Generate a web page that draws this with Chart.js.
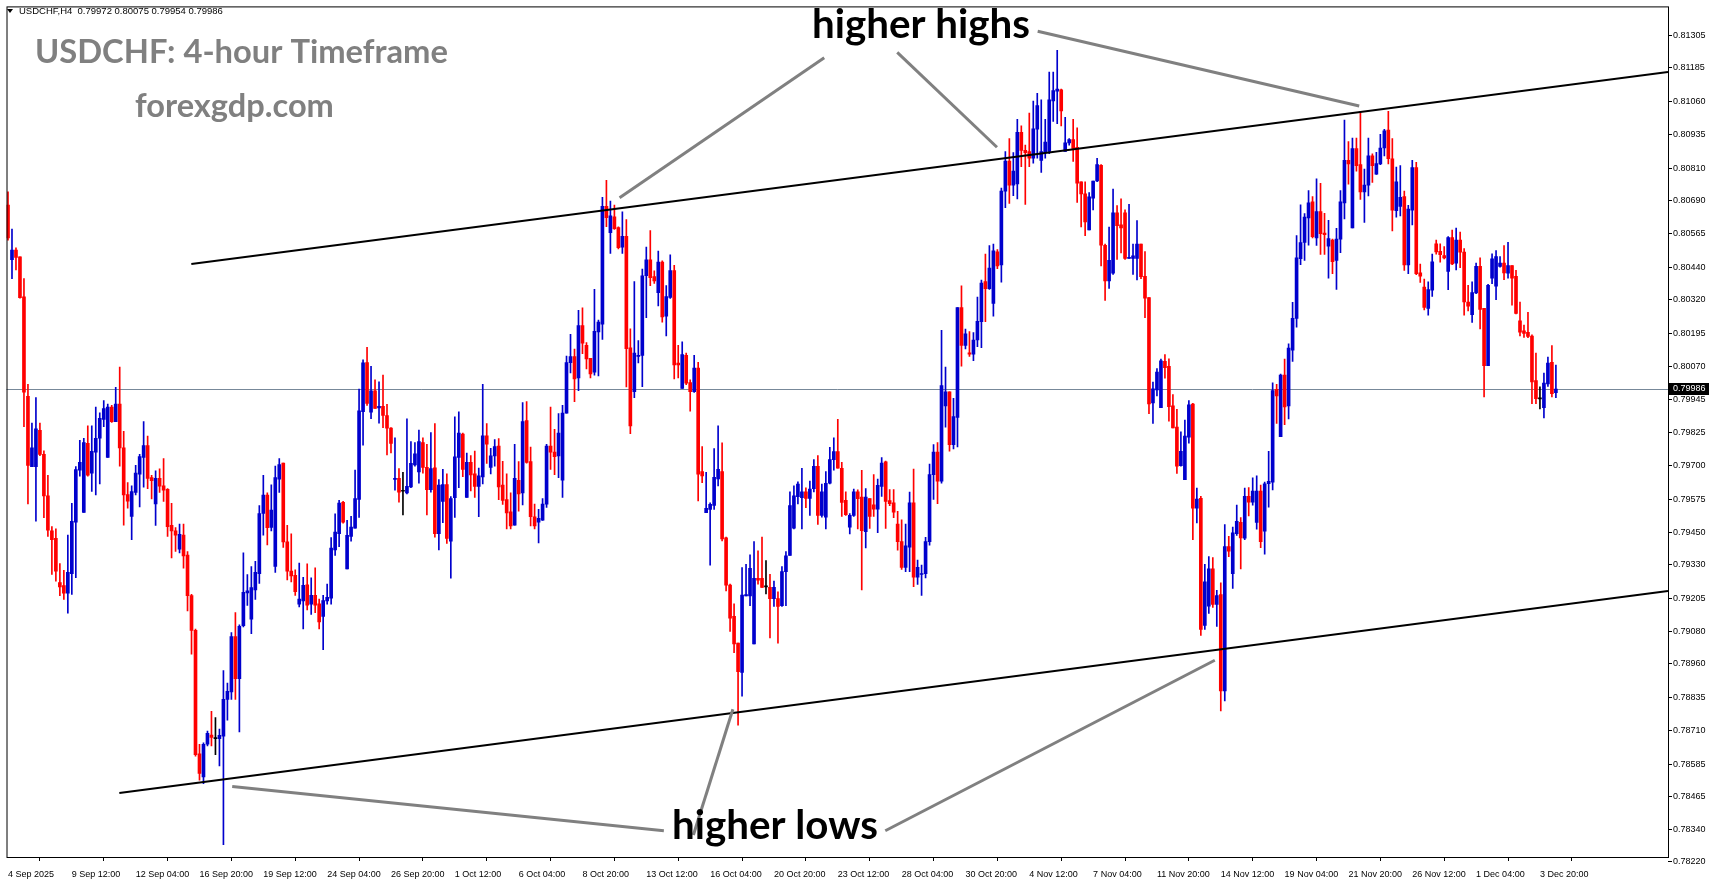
<!DOCTYPE html>
<html>
<head>
<meta charset="utf-8">
<script src="https://cdn.jsdelivr.net/npm/chart.js@4.4.1/dist/chart.umd.min.js"></script>
<style>
  html, body { margin: 0; padding: 0; background: #fff; overflow: hidden; }
  canvas { display: block; }
</style>
</head>
<body>
<canvas id="chart" width="1714" height="888"></canvas>
<script>
// USDCHF H4 candles, 4 Sep 2025 -> 4 Dec 2025 (bar index 0..388)
const opens = [
  0.80673,0.80469,0.80505,0.80480,0.80330,0.79959,0.79696,0.79696,0.79832,0.79742,
  0.79587,0.79456,0.79428,0.79263,0.79252,0.79223,0.79296,0.79489,0.79683,0.79525,
  0.79783,0.79672,0.79750,0.79802,0.79872,0.79730,0.79918,0.79864,0.79930,0.79766,
  0.79592,0.79510,0.79600,0.79668,0.79730,0.79775,0.79655,0.79557,0.79652,0.79624,
  0.79611,0.79477,0.79456,0.79388,0.79440,0.79366,0.79214,0.79085,0.78623,0.78537,
  0.78659,0.78693,0.78680,0.78680,0.78689,0.78827,0.78855,0.79061,0.78904,0.79102,
  0.79224,0.79126,0.79236,0.79296,0.79521,0.79590,0.79469,0.79323,0.79649,0.79709,
  0.79415,0.79306,0.79290,0.79182,0.79194,0.79255,0.79182,0.79215,0.79184,0.79137,
  0.79194,0.79205,0.79385,0.79446,0.79563,0.79314,0.79435,0.79466,0.79574,0.79901,
  0.80085,0.79899,0.79979,0.79915,0.79921,0.79887,0.79840,0.79648,0.79652,0.79604,
  0.79598,0.79620,0.79702,0.79676,0.79786,0.79693,0.79610,0.79692,0.79446,0.79566,
  0.79629,0.79418,0.79580,0.79730,0.79818,0.79581,0.79712,0.79669,0.79622,0.79658,
  0.79811,0.79693,0.79736,0.79773,0.79627,0.79573,0.79527,0.79477,0.79645,0.79598,
  0.79868,0.79715,0.79509,0.79489,0.79496,0.79556,0.79773,0.79750,0.79736,0.79645,
  0.79896,0.80084,0.80107,0.80027,0.80223,0.80149,0.80101,0.80049,0.80199,0.80228,
  0.80668,0.80570,0.80629,0.80589,0.80516,0.80556,0.80140,0.79976,0.80108,0.80111,
  0.80409,0.80468,0.80406,0.80346,0.80460,0.80258,0.80328,0.80428,0.80083,0.79988,
  0.80112,0.80010,0.79976,0.80064,0.79678,0.79524,0.79536,0.79551,0.79650,0.79678,
  0.79430,0.79254,0.79137,0.79037,0.78927,0.79213,0.79213,0.79034,0.79279,0.79279,
  0.79247,0.79245,0.79203,0.79203,0.79177,0.79304,0.79364,0.79466,0.79584,0.79580,
  0.79602,0.79577,0.79614,0.79697,0.79514,0.79507,0.79634,0.79722,0.79752,0.79690,
  0.79570,0.79470,0.79514,0.79602,0.79582,0.79453,0.79577,0.79553,0.79537,0.79622,
  0.79714,0.79569,0.79561,0.79481,0.79416,0.79320,0.79395,0.79561,0.79283,0.79293,
  0.79296,0.79416,0.79666,0.79750,0.79642,0.79923,0.79975,0.79778,0.79880,0.80290,
  0.80149,0.80121,0.80116,0.80169,0.80237,0.80387,0.80361,0.80306,0.80498,0.80449,
  0.80725,0.80837,0.80747,0.80752,0.80945,0.80877,0.80873,0.80848,0.80956,0.80840,
  0.80869,0.80873,0.81062,0.81098,0.81103,0.80873,0.80905,0.80918,0.80889,0.80760,
  0.80715,0.80580,0.80699,0.80763,0.80821,0.80523,0.80390,0.80419,0.80644,0.80599,
  0.80644,0.80474,0.80474,0.80474,0.80527,0.80407,0.80327,0.79934,0.79983,0.79916,
  0.80089,0.80071,0.79923,0.79844,0.79700,0.79647,0.79806,0.79930,0.79541,0.79578,
  0.79103,0.79175,0.79314,0.79181,0.79218,0.78858,0.79397,0.79296,0.79446,0.79488,
  0.79429,0.79585,0.79563,0.79488,0.79605,0.79455,0.79632,0.79638,0.79985,0.79808,
  0.80038,0.79923,0.80131,0.80250,0.80473,0.80533,0.80625,0.80685,0.80550,0.80649,
  0.80568,0.80519,0.80542,0.80466,0.80546,0.80681,0.80840,0.80588,0.80884,0.80824,
  0.80722,0.80747,0.80857,0.80788,0.80827,0.80886,0.80953,0.80846,0.80652,0.80668,
  0.80705,0.80449,0.80654,0.80813,0.80420,0.80367,0.80287,0.80355,0.80528,0.80500,
  0.80484,0.80425,0.80552,0.80456,0.80542,0.80497,0.80311,0.80264,0.80345,0.80444,
  0.80287,0.80073,0.80400,0.80370,0.80444,0.80456,0.80419,0.80447,0.80407,0.80241,
  0.80203,0.80198,0.80184,0.80017,0.79949,0.79916,0.80005,0.80086,0.79972
];
const highs = [
  0.80722,0.80583,0.80513,0.80480,0.80398,0.80003,0.79859,0.79954,0.79859,0.79755,
  0.79664,0.79472,0.79464,0.79334,0.79309,0.79440,0.79559,0.79696,0.79794,0.79802,
  0.79848,0.79848,0.79918,0.79897,0.79943,0.79930,0.79925,0.79992,0.80068,0.79828,
  0.79636,0.79624,0.79701,0.79742,0.79864,0.79810,0.79664,0.79680,0.79688,0.79726,
  0.79614,0.79559,0.79468,0.79481,0.79481,0.79379,0.79219,0.79089,0.78659,0.78664,
  0.78708,0.78782,0.78759,0.78716,0.78934,0.78888,0.79076,0.79151,0.79105,0.79374,
  0.79293,0.79323,0.79342,0.79551,0.79664,0.79598,0.79628,0.79698,0.79726,0.79709,
  0.79477,0.79445,0.79311,0.79336,0.79283,0.79333,0.79281,0.79318,0.79201,0.79215,
  0.79257,0.79431,0.79520,0.79570,0.79566,0.79495,0.79510,0.79683,0.79986,0.80095,
  0.80142,0.80071,0.80020,0.80013,0.80038,0.79929,0.79842,0.79804,0.79689,0.79675,
  0.79875,0.79790,0.79786,0.79833,0.79804,0.79779,0.79823,0.79857,0.79648,0.79686,
  0.79669,0.79584,0.79882,0.79901,0.79821,0.79747,0.79737,0.79754,0.79691,0.80003,
  0.79857,0.79764,0.79797,0.79801,0.79716,0.79669,0.79598,0.79779,0.79715,0.79935,
  0.79939,0.79769,0.79556,0.79537,0.79577,0.79779,0.79918,0.79835,0.79894,0.79925,
  0.80109,0.80190,0.80135,0.80280,0.80289,0.80159,0.80101,0.80358,0.80243,0.80702,
  0.80765,0.80688,0.80673,0.80592,0.80648,0.80619,0.80211,0.80387,0.80167,0.80434,
  0.80516,0.80578,0.80427,0.80501,0.80465,0.80372,0.80487,0.80448,0.80149,0.80162,
  0.80120,0.80020,0.80112,0.80086,0.79771,0.79675,0.79561,0.79763,0.79848,0.79785,
  0.79433,0.79257,0.79184,0.79037,0.79319,0.79331,0.79367,0.79416,0.79382,0.79433,
  0.79345,0.79294,0.79269,0.79228,0.79323,0.79379,0.79602,0.79624,0.79639,0.79690,
  0.79617,0.79642,0.79722,0.79737,0.79631,0.79678,0.79768,0.79804,0.79873,0.79712,
  0.79602,0.79521,0.79612,0.79609,0.79682,0.79614,0.79577,0.79666,0.79650,0.79730,
  0.79717,0.79610,0.79610,0.79529,0.79497,0.79481,0.79601,0.79687,0.79347,0.79328,
  0.79432,0.79706,0.79778,0.79786,0.80205,0.80068,0.79975,0.79951,0.80290,0.80371,
  0.80210,0.80200,0.80197,0.80329,0.80393,0.80490,0.80522,0.80527,0.80507,0.80736,
  0.80873,0.80921,0.80869,0.80993,0.80969,0.80897,0.81017,0.81061,0.81090,0.81066,
  0.80993,0.81170,0.81170,0.81251,0.81106,0.81001,0.80921,0.80993,0.80961,0.80760,
  0.80760,0.80720,0.80763,0.80848,0.80824,0.80527,0.80591,0.80733,0.80671,0.80696,
  0.80655,0.80676,0.80527,0.80615,0.80527,0.80499,0.80327,0.80012,0.80062,0.80098,
  0.80115,0.80099,0.79965,0.79910,0.79826,0.79870,0.79943,0.79932,0.79616,0.79585,
  0.79331,0.79360,0.79356,0.79234,0.79262,0.79480,0.79436,0.79470,0.79552,0.79506,
  0.79616,0.79618,0.79654,0.79662,0.79627,0.79638,0.79753,0.80009,0.80003,0.80042,
  0.80098,0.80155,0.80310,0.80559,0.80674,0.80641,0.80727,0.80705,0.80771,0.80754,
  0.80642,0.80616,0.80546,0.80586,0.80727,0.80990,0.80910,0.80923,0.80923,0.81023,
  0.80807,0.80923,0.80864,0.80870,0.80937,0.80956,0.81023,0.80921,0.80815,0.80820,
  0.80725,0.80672,0.80840,0.80833,0.80453,0.80397,0.80386,0.80490,0.80542,0.80528,
  0.80518,0.80555,0.80580,0.80587,0.80572,0.80510,0.80373,0.80386,0.80456,0.80476,
  0.80287,0.80377,0.80491,0.80503,0.80481,0.80522,0.80534,0.80447,0.80429,0.80311,
  0.80225,0.80272,0.80188,0.80120,0.79994,0.80045,0.80105,0.80148,0.80075
];
const lows = [
  0.80542,0.80398,0.80431,0.80325,0.79845,0.79557,0.79696,0.79492,0.79737,0.79505,
  0.79435,0.79293,0.79268,0.79214,0.79200,0.79149,0.79219,0.79281,0.79660,0.79525,
  0.79660,0.79603,0.79590,0.79631,0.79845,0.79730,0.79861,0.79864,0.79698,0.79477,
  0.79541,0.79423,0.79590,0.79546,0.79619,0.79614,0.79575,0.79476,0.79600,0.79566,
  0.79435,0.79355,0.79379,0.79374,0.79317,0.79157,0.78996,0.78615,0.78525,0.78512,
  0.78653,0.78653,0.78620,0.78578,0.78284,0.78749,0.78827,0.78827,0.78705,0.79097,
  0.79178,0.79072,0.79200,0.79260,0.79440,0.79404,0.79456,0.79301,0.79600,0.79394,
  0.79273,0.79265,0.79215,0.79172,0.79090,0.79161,0.79144,0.79151,0.79090,0.79012,
  0.79182,0.79182,0.79364,0.79397,0.79485,0.79314,0.79418,0.79466,0.79506,0.79776,
  0.79925,0.79875,0.79913,0.79858,0.79842,0.79740,0.79747,0.79608,0.79563,0.79516,
  0.79594,0.79617,0.79698,0.79634,0.79672,0.79516,0.79601,0.79433,0.79385,0.79487,
  0.79409,0.79279,0.79506,0.79617,0.79659,0.79581,0.79605,0.79581,0.79509,0.79631,
  0.79708,0.79669,0.79698,0.79573,0.79555,0.79463,0.79463,0.79477,0.79530,0.79553,
  0.79709,0.79475,0.79463,0.79411,0.79495,0.79544,0.79686,0.79666,0.79655,0.79581,
  0.79896,0.80046,0.79939,0.79980,0.80118,0.80061,0.80027,0.80038,0.80035,0.80171,
  0.80592,0.80492,0.80582,0.80509,0.80492,0.79994,0.79819,0.79954,0.80083,0.79995,
  0.80252,0.80372,0.80380,0.80296,0.80236,0.80184,0.80324,0.80024,0.80027,0.79988,
  0.80002,0.79903,0.79973,0.79568,0.79636,0.79524,0.79328,0.79536,0.79624,0.79419,
  0.79232,0.79081,0.79001,0.78730,0.78839,0.79213,0.79177,0.79034,0.79257,0.79245,
  0.79221,0.79056,0.79174,0.79037,0.79174,0.79177,0.79364,0.79463,0.79557,0.79463,
  0.79543,0.79514,0.79602,0.79480,0.79507,0.79463,0.79631,0.79683,0.79690,0.79510,
  0.79514,0.79445,0.79510,0.79463,0.79236,0.79392,0.79465,0.79510,0.79449,0.79585,
  0.79465,0.79550,0.79505,0.79384,0.79312,0.79304,0.79304,0.79248,0.79256,0.79215,
  0.79280,0.79403,0.79574,0.79558,0.79634,0.79843,0.79754,0.79762,0.79770,0.80071,
  0.80136,0.80108,0.80092,0.80144,0.80140,0.80237,0.80358,0.80258,0.80435,0.80385,
  0.80663,0.80679,0.80708,0.80696,0.80816,0.80675,0.80816,0.80829,0.80848,0.80795,
  0.80848,0.80865,0.80985,0.80977,0.80969,0.80873,0.80897,0.80836,0.80683,0.80591,
  0.80559,0.80580,0.80655,0.80760,0.80446,0.80317,0.80362,0.80414,0.80470,0.80494,
  0.80470,0.80474,0.80414,0.80393,0.80398,0.80252,0.79894,0.79857,0.79960,0.79916,
  0.80026,0.79866,0.79841,0.79671,0.79698,0.79647,0.79784,0.79423,0.79486,0.79066,
  0.79088,0.79148,0.79170,0.79099,0.78784,0.78821,0.79360,0.79241,0.79439,0.79314,
  0.79423,0.79512,0.79552,0.79462,0.79393,0.79369,0.79545,0.79609,0.79857,0.79808,
  0.79853,0.79874,0.80089,0.80217,0.80450,0.80466,0.80523,0.80550,0.80522,0.80489,
  0.80489,0.80400,0.80417,0.80358,0.80495,0.80621,0.80751,0.80588,0.80800,0.80694,
  0.80608,0.80707,0.80758,0.80787,0.80824,0.80857,0.80827,0.80576,0.80628,0.80632,
  0.80429,0.80417,0.80599,0.80413,0.80384,0.80281,0.80262,0.80332,0.80490,0.80460,
  0.80472,0.80357,0.80450,0.80431,0.80439,0.80262,0.80278,0.80235,0.80342,0.80210,
  0.79956,0.80073,0.80379,0.80320,0.80441,0.80394,0.80400,0.80299,0.80266,0.80184,
  0.80179,0.80178,0.79931,0.79931,0.79912,0.79878,0.79996,0.79956,0.79954
];
const closes = [
  0.80550,0.80505,0.80477,0.80327,0.79974,0.79701,0.79766,0.79837,0.79742,0.79587,
  0.79459,0.79423,0.79306,0.79247,0.79223,0.79301,0.79492,0.79685,0.79712,0.79786,
  0.79664,0.79753,0.79802,0.79876,0.79913,0.79918,0.79864,0.79930,0.79766,0.79590,
  0.79567,0.79603,0.79672,0.79734,0.79775,0.79652,0.79644,0.79652,0.79623,0.79608,
  0.79472,0.79456,0.79440,0.79443,0.79363,0.79214,0.79084,0.78620,0.78550,0.78659,
  0.78700,0.78685,0.78680,0.78692,0.78827,0.78857,0.79061,0.78904,0.79100,0.79227,
  0.79232,0.79244,0.79301,0.79521,0.79590,0.79468,0.79534,0.79655,0.79704,0.79415,
  0.79306,0.79288,0.79229,0.79201,0.79253,0.79179,0.79215,0.79179,0.79116,0.79196,
  0.79208,0.79392,0.79452,0.79560,0.79489,0.79439,0.79470,0.79577,0.79904,0.80084,
  0.79932,0.79979,0.79913,0.79921,0.79887,0.79840,0.79783,0.79652,0.79601,0.79604,
  0.79622,0.79708,0.79744,0.79790,0.79693,0.79610,0.79689,0.79446,0.79627,0.79629,
  0.79428,0.79577,0.79733,0.79821,0.79686,0.79712,0.79665,0.79622,0.79662,0.79811,
  0.79780,0.79736,0.79771,0.79620,0.79570,0.79523,0.79475,0.79652,0.79594,0.79864,
  0.79712,0.79509,0.79475,0.79503,0.79556,0.79773,0.79750,0.79733,0.79821,0.79896,
  0.80085,0.80107,0.80024,0.80223,0.80157,0.80098,0.80042,0.80201,0.80236,0.80668,
  0.80626,0.80633,0.80585,0.80514,0.80556,0.80137,0.79848,0.80120,0.80112,0.80409,
  0.80468,0.80402,0.80390,0.80460,0.80255,0.80331,0.80428,0.80076,0.80076,0.80115,
  0.80008,0.79976,0.80064,0.79668,0.79661,0.79540,0.79555,0.79656,0.79686,0.79426,
  0.79253,0.79130,0.79034,0.78930,0.79216,0.79218,0.79316,0.79279,0.79272,0.79245,
  0.79247,0.79203,0.79245,0.79174,0.79304,0.79363,0.79551,0.79587,0.79631,0.79602,
  0.79577,0.79612,0.79697,0.79514,0.79602,0.79634,0.79722,0.79752,0.79690,0.79562,
  0.79517,0.79514,0.79602,0.79576,0.79457,0.79582,0.79510,0.79537,0.79626,0.79709,
  0.79566,0.79558,0.79526,0.79416,0.79320,0.79400,0.79561,0.79283,0.79320,0.79296,
  0.79416,0.79666,0.79750,0.79642,0.79999,0.79975,0.79778,0.79883,0.80290,0.80149,
  0.80192,0.80116,0.80169,0.80239,0.80382,0.80361,0.80438,0.80502,0.80446,0.80725,
  0.80837,0.80747,0.80800,0.80945,0.80877,0.80869,0.80848,0.80958,0.81045,0.80873,
  0.80908,0.81066,0.81101,0.81106,0.81025,0.80905,0.80918,0.80885,0.80755,0.80715,
  0.80610,0.80704,0.80763,0.80824,0.80523,0.80390,0.80467,0.80644,0.80596,0.80588,
  0.80474,0.80478,0.80483,0.80527,0.80406,0.80325,0.79930,0.79987,0.80049,0.80091,
  0.80066,0.79920,0.79841,0.79698,0.79753,0.79810,0.79927,0.79541,0.79575,0.79088,
  0.79266,0.79314,0.79181,0.79214,0.78858,0.79397,0.79380,0.79449,0.79492,0.79430,
  0.79585,0.79563,0.79605,0.79605,0.79416,0.79632,0.79641,0.79980,0.79960,0.80038,
  0.79919,0.80139,0.80250,0.80476,0.80533,0.80628,0.80681,0.80555,0.80649,0.80566,
  0.80562,0.80548,0.80462,0.80546,0.80685,0.80840,0.80827,0.80884,0.80820,0.80722,
  0.80748,0.80857,0.80820,0.80828,0.80886,0.80950,0.80846,0.80654,0.80760,0.80702,
  0.80449,0.80658,0.80813,0.80417,0.80407,0.80291,0.80357,0.80461,0.80498,0.80488,
  0.80476,0.80552,0.80453,0.80542,0.80497,0.80311,0.80295,0.80346,0.80444,0.80283,
  0.80073,0.80373,0.80472,0.80481,0.80456,0.80420,0.80447,0.80400,0.80268,0.80198,
  0.80194,0.80182,0.80012,0.79950,0.79949,0.80008,0.80083,0.79969,0.79986
];

// time axis: one label every 16 bars
const timeTickBars = [0,16,32,48,64,80,96,112,128,144,160,176,192,208,224,240,256,272,288,304,320,336,352,368,384];
const timeLabels = [
  '4 Sep 2025','9 Sep 12:00','12 Sep 04:00','16 Sep 20:00','19 Sep 12:00','24 Sep 04:00',
  '26 Sep 20:00','1 Oct 12:00','6 Oct 04:00','8 Oct 20:00','13 Oct 12:00','16 Oct 04:00',
  '20 Oct 20:00','23 Oct 12:00','28 Oct 04:00','30 Oct 20:00','4 Nov 12:00','7 Nov 04:00',
  '11 Nov 20:00','14 Nov 12:00','19 Nov 04:00','21 Nov 20:00','26 Nov 12:00','1 Dec 04:00',
  '3 Dec 20:00'
];
const priceTicks = [
  0.81305,0.81185,0.81060,0.80935,0.80810,0.80690,0.80565,0.80440,0.80320,0.80195,
  0.80070,0.79945,0.79825,0.79700,0.79575,0.79450,0.79330,0.79205,0.79080,0.78960,
  0.78835,0.78710,0.78585,0.78465,0.78340,0.78220
];
const lastPrice = 0.79986;

// drawn objects as [bar index, price] pairs
const channelUpper = [[45.95, 0.80453], [416.1, 0.81170]];
const channelLower = [[27.9, 0.78477], [416.1, 0.79232]];
const highPointers = [
  [[153.3, 0.80700], [204.6, 0.81223]],
  [[222.9, 0.81243], [247.9, 0.80889]],
  [[258.1, 0.81322], [338.7, 0.81043]]
];
const lowPointers = [
  [[56.2, 0.78501], [164.4, 0.78336]],
  [[171.8, 0.78320], [181.7, 0.78790]],
  [[219.9, 0.78336], [302.5, 0.78973]]
];

const BULL = '#0000cd';
const BEAR = '#ff0000';
const DOJI = '#000000';

const barIdx = opens.map((_, i) => i);
const candleColors = barIdx.map(i => closes[i] > opens[i] ? BULL : (closes[i] < opens[i] ? BEAR : DOJI));

function fitFont(ctx, text, weight, family, width) {
  ctx.font = weight + ' 100px ' + family;
  const size = 100 * width / ctx.measureText(text).width;
  ctx.font = weight + ' ' + size.toFixed(2) + 'px ' + family;
}

const overlay = {
  id: 'overlay',
  beforeDatasetsDraw(chart) {
    const { ctx, chartArea: a, scales: { y } } = chart;
    const py = Math.round(y.getPixelForValue(lastPrice)) + 0.5;
    ctx.save();
    ctx.strokeStyle = '#778899';
    ctx.lineWidth = 1;
    ctx.beginPath();
    ctx.moveTo(a.left, py);
    ctx.lineTo(a.right, py);
    ctx.stroke();
    ctx.restore();
  },
  afterDatasetsDraw(chart) {
    const { ctx, chartArea: a, scales: { x, y } } = chart;
    const seg = (pts, color, width) => {
      ctx.strokeStyle = color;
      ctx.lineWidth = width;
      ctx.beginPath();
      ctx.moveTo(x.getPixelForValue(pts[0][0]), y.getPixelForValue(pts[0][1]));
      ctx.lineTo(x.getPixelForValue(pts[1][0]), y.getPixelForValue(pts[1][1]));
      ctx.stroke();
    };
    ctx.save();
    ctx.beginPath();
    ctx.rect(a.left, a.top, a.right - a.left, a.bottom - a.top);
    ctx.clip();
    ctx.lineCap = 'butt';
    seg(channelUpper, '#000000', 2);
    seg(channelLower, '#000000', 2);
    highPointers.forEach(p => seg(p, '#808080', 3));
    lowPointers.forEach(p => seg(p, '#808080', 3));

    // labels
    ctx.textBaseline = 'alphabetic';
    ctx.textAlign = 'left';
    ctx.fillStyle = '#808080';
    fitFont(ctx, 'USDCHF: 4-hour Timeframe', 'bold', 'Lato', 413);
    ctx.fillText('USDCHF: 4-hour Timeframe', 35, 63);
    fitFont(ctx, 'forexgdp.com', 'bold', 'Lato', 199);
    ctx.fillText('forexgdp.com', 135, 117);
    ctx.fillStyle = '#000000';
    fitFont(ctx, 'higher highs', 'bold', 'Lato', 218);
    ctx.fillText('higher highs', 812, 38);
    fitFont(ctx, 'higher lows', 'bold', 'Lato', 206);
    ctx.fillText('higher lows', 672, 839);
    ctx.restore();
  },
  afterDraw(chart) {
    const { ctx, chartArea: a, scales: { y } } = chart;
    ctx.save();
    // frame
    ctx.strokeStyle = '#000000';
    ctx.lineWidth = 1;
    ctx.strokeRect(a.left + 0.5, a.top + 0.5, a.right - a.left, a.bottom - a.top);
    // header
    ctx.fillStyle = '#000000';
    ctx.beginPath();
    ctx.moveTo(7, 9); ctx.lineTo(13, 9); ctx.lineTo(10, 13); ctx.closePath();
    ctx.fill();
    ctx.font = '9.5px "Liberation Sans"';
    ctx.textBaseline = 'middle';
    ctx.fillText('USDCHF,H4  0.79972 0.80075 0.79954 0.79986', 19, 11);
    // last price box
    const py = Math.round(y.getPixelForValue(lastPrice));
    ctx.fillStyle = '#000000';
    ctx.fillRect(a.right + 1, py - 6, 40, 12);
    ctx.fillStyle = '#ffffff';
    ctx.font = '9px "Liberation Sans"';
    ctx.fillText(lastPrice.toFixed(5), a.right + 5, py);
    ctx.restore();
  }
};

new Chart(document.getElementById('chart'), {
  type: 'bar',
  data: {
    datasets: [
      {
        label: 'wick',
        data: barIdx.map(i => ({ x: i, y: [lows[i], highs[i]] })),
        backgroundColor: candleColors,
        barThickness: 1,
        grouped: false,
        borderWidth: 0
      },
      {
        label: 'body',
        data: barIdx.map(i => ({ x: i, y: [opens[i], closes[i]] })),
        backgroundColor: candleColors,
        barThickness: 3,
        minBarLength: 1,
        grouped: false,
        borderWidth: 0
      }
    ]
  },
  options: {
    responsive: false,
    devicePixelRatio: 1,
    animation: false,
    layout: { padding: { left: 2, top: 1, right: 0, bottom: 0 } },
    plugins: { legend: { display: false }, tooltip: { enabled: false } },
    scales: {
      x: {
        type: 'linear',
        min: -0.375,
        max: 416.1,
        offset: false,
        afterFit: s => { s.height = 31; },
        afterBuildTicks: s => { s.ticks = timeTickBars.map(v => ({ value: v })); },
        grid: { display: true, drawOnChartArea: false, drawTicks: true, tickLength: 4, color: '#000000' },
        border: { display: false },
        ticks: {
          autoSkip: false,
          maxRotation: 0,
          align: 'start',
          padding: 8,
          color: '#000000',
          font: { family: 'Liberation Sans', size: 9 },
          callback: (v, i) => timeLabels[i]
        }
      },
      y: {
        position: 'right',
        min: 0.78238,
        max: 0.81415,
        afterFit: s => { s.width = 46; },
        afterBuildTicks: s => { s.ticks = priceTicks.map(v => ({ value: v })); },
        grid: { display: true, drawOnChartArea: false, drawTicks: true, tickLength: 4, color: '#000000' },
        border: { display: false },
        ticks: {
          autoSkip: false,
          padding: 1,
          color: '#000000',
          font: { family: 'Liberation Sans', size: 9 },
          callback: v => v.toFixed(5)
        }
      }
    }
  },
  plugins: [overlay]
});
</script>
</body>
</html>
